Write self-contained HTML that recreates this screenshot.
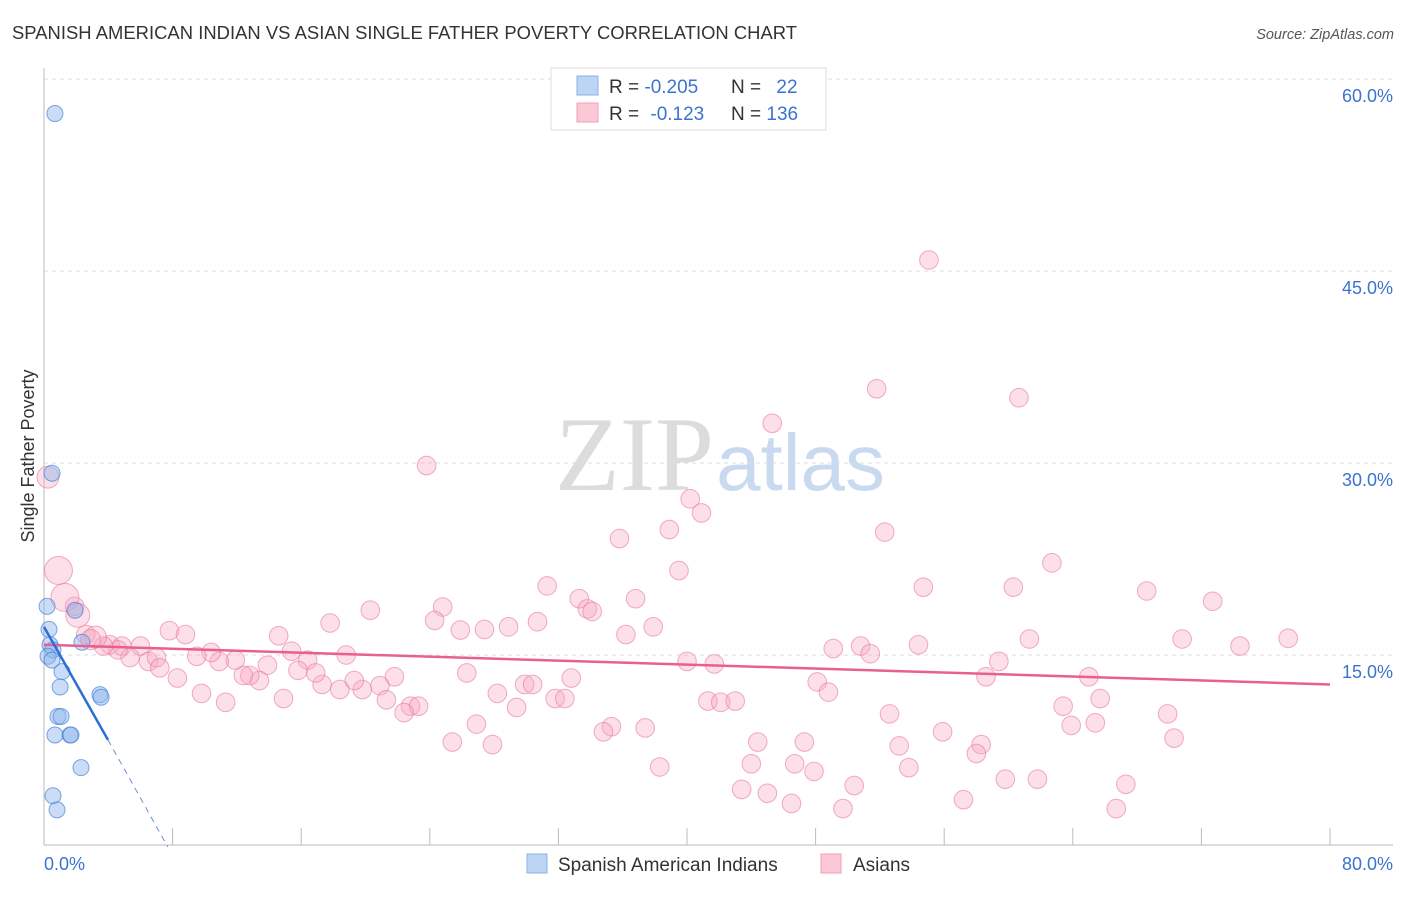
<!DOCTYPE html>
<html><head><meta charset="utf-8"><style>
body{margin:0;background:#fff;font-family:"Liberation Sans",sans-serif}
svg text{font-family:"Liberation Sans",sans-serif}
</style></head><body>
<svg id="chart" width="1406" height="892" xmlns="http://www.w3.org/2000/svg">
<text x="12" y="39" font-size="18.4" fill="#333" textLength="785">SPANISH AMERICAN INDIAN VS ASIAN SINGLE FATHER POVERTY CORRELATION CHART</text>
<text x="1394" y="39" font-size="14.5" fill="#555" text-anchor="end" font-style="italic">Source: ZipAtlas.com</text>
<text x="714" y="490" font-size="106" text-anchor="end" fill="#dcdcdc" style="font-family:'Liberation Serif',serif">ZIP</text>
<text x="716" y="490" font-size="80" fill="#c9daf0">atlas</text>
<text transform="translate(34,456) rotate(-90)" font-size="18" fill="#333" text-anchor="middle">Single Father Poverty</text>
<g id="grid"></g><g id="axes"></g><g id="pink"></g><g id="blue"></g><g id="trends"></g>
<g>
<rect x="551" y="68" width="275" height="62" fill="#fff" stroke="#ddd"/>
<rect x="577" y="76" width="21" height="19" fill="#bcd5f5" stroke="#8ab0e6"/>
<rect x="577" y="103" width="21" height="19" fill="#fcc8d6" stroke="#f0a0b8"/>
<text x="609" y="93" font-size="19" fill="#333">R = <tspan fill="#3b73d1">-0.205</tspan></text>
<text x="731" y="93" font-size="19" fill="#333">N = <tspan fill="#3b73d1" dx="10">22</tspan></text>
<text x="609" y="120" font-size="19" fill="#333">R = <tspan fill="#3b73d1" dx="6">-0.123</tspan></text>
<text x="731" y="120" font-size="19" fill="#333">N = <tspan fill="#3b73d1">136</tspan></text>
</g>
<g>
<rect x="527" y="854" width="20" height="19" fill="#bcd5f5" stroke="#8ab0e6"/>
<text x="558" y="871" font-size="19" fill="#333">Spanish American Indians</text>
<rect x="821" y="854" width="20" height="19" fill="#fcc8d6" stroke="#f0a0b8"/>
<text x="853" y="871" font-size="19" fill="#333">Asians</text>
</g>
</svg>
<script>
const yTicks=[15,30,45,60];
const yTickLabels=["15.0%","30.0%","45.0%","60.0%"];
const xTickCount=10;
const blueX=[0.68,0.5,0.19,0.31,0.37,0.56,0.25,0.5,1.12,1.93,2.36,1.0,3.48,3.55,0.87,1.06,0.68,1.62,1.68,2.3,0.56,0.81];
const blueY=[57.3,29.2,18.8,17.0,15.8,15.4,14.9,14.6,13.7,18.5,16.0,12.5,11.9,11.7,10.2,10.2,8.75,8.75,8.75,6.2,4.0,2.9];
const pinkX=[55.05,51.8,60.65,45.3,23.8,40.2,40.9,38.9,35.8,52.3,39.5,62.7,31.3,54.7,60.3,68.6,72.7,36.8,33.3,33.8,34.1,24.8,20.3,17.8,30.7,28.9,27.4,25.9,24.3,36.2,37.9,70.8,61.3,77.4,74.4,54.4,50.8,49.1,51.4,59.4,58.6,65.0,40.0,41.7,7.8,8.8,14.6,13.9,15.4,16.4,18.8,21.8,20.9,19.8,19.3,17.3,16.9,15.8,13.4,12.8,12.4,11.9,10.9,10.4,9.5,8.3,9.8,11.3,14.9,18.4,21.3,22.8,23.3,22.4,26.3,28.2,29.9,30.4,29.4,31.8,32.4,32.8,48.1,48.8,41.3,42.1,43.0,65.7,63.4,69.9,52.6,65.4,63.9,55.9,58.3,58.0,35.3,34.8,37.4,26.9,25.4,27.9,44.4,47.3,53.2,44.0,46.7,47.9,38.3,53.8,59.8,61.8,50.4,67.3,43.4,45.0,46.5,49.7,57.2,66.7,70.3,4.1,4.85,6.0,5.35,6.5,7.0,7.2,4.6,3.7,2.6,1.9,0.9,1.3,2.1,0.25,3.2,2.9];
const pinkY=[45.86,35.8,35.1,33.1,29.8,27.2,26.1,24.8,24.1,24.6,21.6,22.2,20.4,20.3,20.3,20.0,19.2,19.4,19.4,18.6,18.4,18.75,18.5,17.5,17.6,17.2,17.0,16.95,17.7,16.6,17.2,16.25,16.25,16.3,15.7,15.8,15.7,15.5,15.1,14.5,13.3,13.3,14.5,14.3,16.9,16.6,16.5,14.2,15.3,14.6,15.0,13.3,12.6,12.3,13.0,12.7,13.6,13.8,13.0,13.4,13.4,14.6,14.5,15.2,14.9,13.2,12.0,11.3,11.6,12.3,11.5,11.0,11.0,10.5,13.6,12.0,12.7,12.7,10.9,11.6,11.6,13.2,12.9,12.1,11.4,11.3,11.4,11.6,11.0,10.4,10.4,9.7,9.5,9.0,8.0,7.3,9.4,9.0,9.3,9.6,8.2,8.0,8.2,8.2,7.9,6.5,6.5,5.9,6.25,6.2,5.3,5.3,4.8,4.9,4.5,4.2,3.4,3.0,3.7,3.0,8.5,15.8,15.7,15.7,14.8,14.5,14.8,14.0,15.4,15.7,16.6,18.8,21.6,19.5,18.1,28.9,16.4,16.2];
const pinkSize=pinkX.map((_,i)=>i>=pinkX.length-6?[14,14,12,11,11,10][i-(pinkX.length-6)]:9.3);
const blueTrend=[[0,17.2],[3.98,8.37]];
const blueTrendDash=[[3.98,8.37],[7.7,0]];
const pinkTrend=[[0,15.8],[80,12.7]];
const X0=44,X1=1330,Y0=847,PPY=12.8;
const sx=v=>X0+v*(X1-X0)/80, sy=v=>Y0-v*PPY;
const NS="http://www.w3.org/2000/svg";
function mk(tag,attrs,parent){const e=document.createElementNS(NS,tag);for(const k in attrs)e.setAttribute(k,attrs[k]);document.getElementById(parent).appendChild(e);return e;}
yTicks.forEach((t,i)=>{
 const l=mk('line',{x1:X0,x2:1393,y1:sy(t),y2:sy(t),stroke:'#ddd','stroke-dasharray':'4,4'},'grid');
 
 
 const tx=mk('text',{x:1393,y:sy(t)+23,'font-size':18,fill:'#3b73d1','text-anchor':'end'},'grid');
 tx.textContent=yTickLabels[i];
 
 
});
let a=mk('line',{x1:X0,x2:X0,y1:68,y2:845,stroke:'#bbb'},'axes');


a=mk('line',{x1:X0,x2:1393,y1:845,y2:845,stroke:'#bbb'},'axes');


for(let i=1;i<=xTickCount;i++){const t=mk('line',{x1:sx(i*8),x2:sx(i*8),y1:828,y2:845,stroke:'#bbb'},'axes');
 
 }
let xl=mk('text',{x:44,y:870,'font-size':18,fill:'#3b73d1'},'axes');xl.textContent='0.0%';


xl=mk('text',{x:1393,y:870,'font-size':18,fill:'#3b73d1','text-anchor':'end'},'axes');xl.textContent='80.0%';


pinkX.forEach((x,i)=>{const c=mk('circle',{cx:sx(x),cy:sy(pinkY[i]),r:pinkSize[i],fill:'rgba(248,170,195,0.38)',stroke:'rgba(232,120,155,0.6)','stroke-width':1},'pink');
 
 });
blueX.forEach((x,i)=>{const c=mk('circle',{cx:sx(x),cy:sy(blueY[i]),r:8,fill:'rgba(140,180,235,0.45)',stroke:'rgba(70,130,215,0.7)','stroke-width':1},'blue');
 
 });
let t=mk('line',{x1:sx(pinkTrend[0][0]),y1:sy(pinkTrend[0][1]),x2:sx(pinkTrend[1][0]),y2:sy(pinkTrend[1][1]),stroke:'#e8608c','stroke-width':2.5},'trends');


t=mk('line',{x1:sx(blueTrend[0][0]),y1:sy(blueTrend[0][1]),x2:sx(blueTrend[1][0]),y2:sy(blueTrend[1][1]),stroke:'#2a6fd6','stroke-width':2.5},'trends');


t=mk('line',{x1:sx(blueTrendDash[0][0]),y1:sy(blueTrendDash[0][1]),x2:sx(blueTrendDash[1][0]),y2:sy(blueTrendDash[1][1]),stroke:'#6a8fd0','stroke-width':1,'stroke-dasharray':'6,5'},'trends');


</script>
</body></html>
